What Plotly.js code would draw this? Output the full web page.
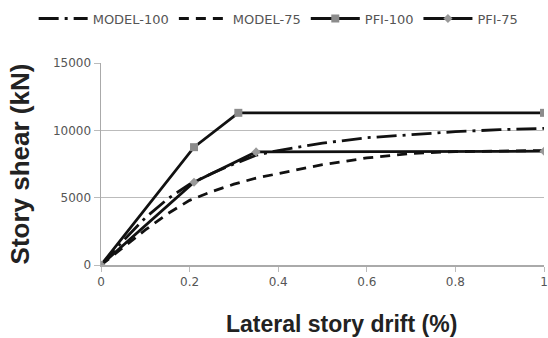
<!DOCTYPE html>
<html><head><meta charset="utf-8">
<script src="https://cdn.plot.ly/plotly-3.0.1.min.js"></script>
<style>html,body{margin:0;padding:0;background:#fff}#c{width:548px;height:338px}</style>
</head><body><div id="c"></div>
<script>
const model100X = [0, 0.05, 0.1, 0.15, 0.2, 0.25, 0.3, 0.35, 0.4, 0.5, 0.6, 0.7, 0.8, 0.9, 1.0];
const model100Y = [0, 1800, 3500, 4900, 6000, 6800, 7500, 8150, 8500, 9050, 9450, 9700, 9900, 10050, 10150];
const model75X = [0, 0.05, 0.1, 0.15, 0.2, 0.25, 0.3, 0.35, 0.4, 0.5, 0.6, 0.7, 0.8, 0.9, 1.0];
const model75Y = [0, 1300, 2600, 3800, 4800, 5450, 6000, 6450, 6800, 7450, 7950, 8280, 8420, 8470, 8500];
const pfi100X = [0, 0.21, 0.31, 1.0];
const pfi100Y = [0, 8750, 11300, 11300];
const pfi75X = [0, 0.21, 0.35, 1.0];
const pfi75Y = [0, 6150, 8400, 8450];
const seriesNames = ['MODEL-100', 'MODEL-75', 'PFI-100', 'PFI-75'];
const xTicks = [0, 0.2, 0.4, 0.6, 0.8, 1];
const xTickText = ['0', '0.2', '0.4', '0.6', '0.8', '1'];
const yTicks = [0, 5000, 10000, 15000];
const xTitle = 'Lateral story drift (%)';
const yTitle = 'Story shear (kN)';

const FONT = 'DejaVu Sans, Verdana, sans-serif';
const TFONT = 'Liberation Sans, Arial, sans-serif';
const traces = [
  {x: model100X, y: model100Y, name: seriesNames[0], mode: 'lines',
   line: {color: '#111', width: 2.8, dash: '20px,6px,3px,6px'}},
  {x: model75X, y: model75Y, name: seriesNames[1], mode: 'lines',
   line: {color: '#111', width: 2.8, dash: '10px,7px'}},
  {x: pfi100X, y: pfi100Y, name: seriesNames[2], mode: 'lines+markers',
   line: {color: '#111', width: 2.8},
   marker: {symbol: 'square', size: 8, color: '#8c8c8c', line: {width: 0}}},
  {x: pfi75X, y: pfi75Y, name: seriesNames[3], mode: 'lines+markers',
   line: {color: '#111', width: 2.8},
   marker: {symbol: 'diamond', size: 7, color: '#999', line: {width: 0}}}
];

const layout = {
  width: 548, height: 338,
  margin: {l: 101, r: 4, t: 52, b: 73},
  paper_bgcolor: '#fff', plot_bgcolor: '#fff',
  font: {family: FONT, color: '#555', size: 11},
  showlegend: true,
  legend: {orientation: 'h', x: -0.152, xanchor: 'left', y: 1.22, yanchor: 'middle',
           font: {size: 13, color: '#555', family: FONT}, itemwidth: 49, tracegroupgap: 0},
  xaxis: {range: [0, 1], tickvals: xTicks, ticktext: xTickText,
          showgrid: false, zeroline: false, showline: true, linecolor: '#aaa', linewidth: 1.5,
          ticks: 'outside', ticklen: 5, tickcolor: '#bbb',
          tickfont: {size: 12, color: '#555', family: FONT}},
  yaxis: {range: [0, 15000], tickvals: yTicks, tickformat: 'd',
          showgrid: true, gridcolor: '#bbb', gridwidth: 1.5, zeroline: false,
          showline: true, linecolor: '#aaa', linewidth: 1.5,
          ticks: 'outside', ticklen: 6, tickcolor: '#bbb',
          tickfont: {size: 12, color: '#555', family: FONT},
          title: {text: yTitle, standoff: 16,
                  font: {size: 26, color: '#222', family: TFONT, weight: 'bold'}}},
  annotations: [
    {text: xTitle, xref: 'paper', yref: 'paper', x: 0.542, y: -0.29,
     xanchor: 'center', yanchor: 'middle', showarrow: false,
     font: {size: 23, color: '#222', family: TFONT, weight: 'bold'}}
  ]
};
Plotly.newPlot('c', traces, layout, {displayModeBar: false, staticPlot: true});
</script></body></html>
